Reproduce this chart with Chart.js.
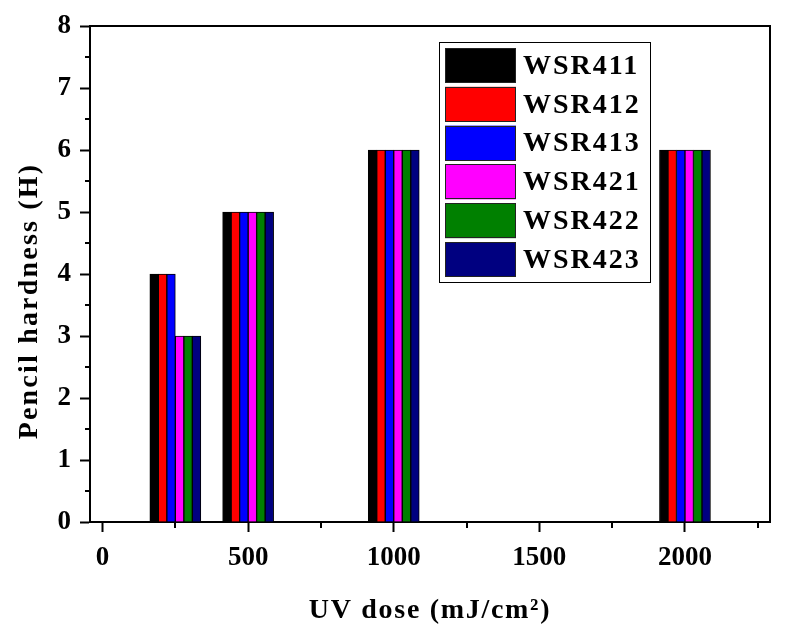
<!DOCTYPE html>
<html><head><meta charset="utf-8">
<script src="https://cdn.jsdelivr.net/npm/chart.js@4/dist/chart.umd.min.js"></script>
<style>html,body{margin:0;padding:0;background:#fff}#wrap{width:788px;height:629px}</style>
</head><body><div id="wrap"><canvas id="c" width="788" height="629"></canvas></div>
<script>
const doses = [250, 500, 1000, 2000];
const seriesNames = ['WSR411', 'WSR412', 'WSR413', 'WSR421', 'WSR422', 'WSR423'];
const wsr411 = [4, 5, 6, 6];
const wsr412 = [4, 5, 6, 6];
const wsr413 = [4, 5, 6, 6];
const wsr421 = [3, 5, 6, 6];
const wsr422 = [3, 5, 6, 6];
const wsr423 = [3, 5, 6, 6];
const seriesColors = ['#000000', '#ff0000', '#0000ff', '#ff00ff', '#008000', '#000080'];
const xTicks = [0, 500, 1000, 1500, 2000];
const xMinorTicks = [250, 750, 1250, 1750, 2250];
const yTicks = [0, 1, 2, 3, 4, 5, 6, 7, 8];
const yMinorTicks = [0.5, 1.5, 2.5, 3.5, 4.5, 5.5, 6.5, 7.5];
const xTitle = 'UV dose (mJ/cm\u00B2)';
const yTitle = 'Pencil hardness (H)';

const allSeries = [wsr411, wsr412, wsr413, wsr421, wsr422, wsr423];
const FONT = "'Liberation Serif', 'Times New Roman', serif";

const datasets = allSeries.map((vals, i) => ({
  label: seriesNames[i],
  data: doses.map((x, j) => ({ x: x, y: vals[j] })),
  backgroundColor: seriesColors[i],
  borderColor: '#000000',
  borderWidth: 1,
  barThickness: 8.5
}));

const extras = {
  id: 'extras',
  afterDraw(chart) {
    const ctx = chart.ctx;
    const a = chart.chartArea;
    const xs = chart.scales.x, ys = chart.scales.y;
    ctx.save();
    ctx.strokeStyle = '#000';
    ctx.lineWidth = 2;
    ctx.beginPath();
    ctx.moveTo(a.left, Math.round(a.top));
    ctx.lineTo(Math.round(a.right), Math.round(a.top));
    ctx.lineTo(Math.round(a.right), a.bottom);
    ctx.stroke();
    // minor ticks
    ctx.beginPath();
    xMinorTicks.forEach(v => {
      const px = Math.round(xs.getPixelForValue(v));
      ctx.moveTo(px, a.bottom); ctx.lineTo(px, a.bottom + 6);
    });
    yMinorTicks.forEach(v => {
      const py = Math.round(ys.getPixelForValue(v));
      ctx.moveTo(a.left, py); ctx.lineTo(a.left - 5, py);
    });
    ctx.stroke();
    // titles
    ctx.fillStyle = '#000';
    ctx.font = 'bold 28px ' + FONT;
    try { ctx.letterSpacing = '1.7px'; } catch (e) {}
    ctx.textAlign = 'center';
    ctx.textBaseline = 'middle';
    ctx.fillText(xTitle, (a.left + a.right) / 2, 611);
    ctx.save();
    ctx.translate(30, 301);
    ctx.rotate(-Math.PI / 2);
    try { ctx.letterSpacing = '2.2px'; } catch (e) {}
    ctx.fillText(yTitle, 0, 0);
    ctx.restore();
    // legend
    ctx.fillStyle = '#fff';
    ctx.fillRect(439.5, 42.5, 211, 240);
    ctx.lineWidth = 1;
    ctx.strokeStyle = '#000';
    ctx.strokeRect(439.5, 42.5, 211, 240);
    ctx.font = 'bold 28px ' + FONT;
    try { ctx.letterSpacing = '2px'; } catch (e) {}
    ctx.textAlign = 'left';
    chart.data.datasets.forEach((ds, i) => {
      const y0 = 48 + i * 38.8;
      ctx.fillStyle = ds.backgroundColor;
      ctx.fillRect(445, y0, 71, 35);
      ctx.strokeStyle = '#222';
      ctx.strokeRect(445.5, Math.round(y0) + 0.5, 70, 34);
      ctx.fillStyle = '#000';
      ctx.fillText(ds.label, 523, y0 + 18.5);
    });
    ctx.restore();
  }
};

new Chart(document.getElementById('c'), {
  type: 'bar',
  data: { datasets: datasets },
  options: {
    responsive: false,
    animation: false,
    devicePixelRatio: 1,
    layout: { padding: { top: 26, right: 18, bottom: 0, left: 0 } },
    plugins: { legend: { display: false }, tooltip: { enabled: false } },
    scales: {
      x: {
        type: 'linear',
        offset: false,
        min: -43,
        max: 2292,
        afterBuildTicks: s => { s.ticks = xTicks.map(v => ({ value: v })); },
        afterFit: s => { s.height = 107; },
        grid: { display: true, offset: false, drawOnChartArea: false, tickLength: 10, tickWidth: 2, tickColor: '#000' },
        border: { display: true, color: '#000', width: 2 },
        ticks: { color: '#000', font: { family: FONT, size: 27, weight: 'bold' }, padding: 10, maxRotation: 0, autoSkip: false, callback: v => String(v) }
      },
      y: {
        type: 'linear',
        min: 0,
        max: 8,
        afterBuildTicks: s => { s.ticks = yTicks.map(v => ({ value: v })); },
        afterFit: s => { s.width = 90; },
        grid: { display: true, drawOnChartArea: false, tickLength: 10, tickWidth: 2, tickColor: '#000' },
        border: { display: true, color: '#000', width: 2 },
        ticks: { color: '#000', font: { family: FONT, size: 27, weight: 'bold' }, padding: 9, autoSkip: false, callback: v => String(v) }
      }
    }
  },
  plugins: [extras]
});
</script></body></html>
